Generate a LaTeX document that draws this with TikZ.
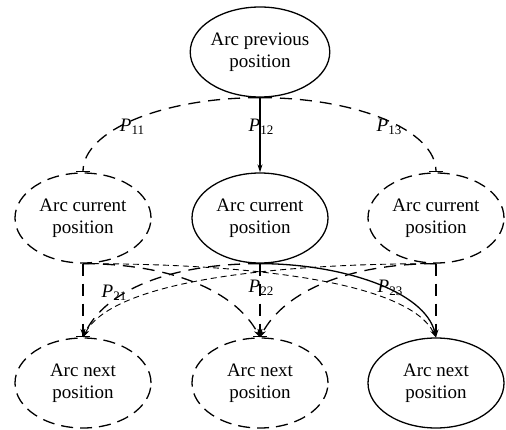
\documentclass[tikz,border=0pt]{standalone}
\usepackage{fontspec}
\setmainfont{Liberation Serif}
\usetikzlibrary{shapes.geometric,arrows.meta}
\newcommand{\plab}[1]{\textit{P}\raisebox{-0.3ex}{\fontsize{13}{13}\selectfont #1}}
\begin{document}
\begin{tikzpicture}[x=1pt,y=-1pt,
  ell/.style={ellipse,draw,line width=1.3pt,minimum width=136pt,minimum height=90pt,inner sep=0pt,
    align=center,font=\fontsize{19}{22}\selectfont},
  dashell/.style={ell,dash pattern=on 12pt off 7pt},
  conn/.style={line width=1.3pt},
  longdash/.style={conn,dash pattern=on 12pt off 8pt},
  finedash/.style={line width=0.9pt,dash pattern=on 6pt off 4pt},
  bartip/.style={-{Bar[width=14pt,line width=1.3pt]}},
  arrtip/.style={-{Stealth[length=8pt,width=5pt]}},
  arrbar/.style={-{Stealth[length=7pt,width=5pt]Bar[width=14pt,line width=1.3pt]}},
  lab/.style={font=\fontsize{19}{22}\selectfont,inner sep=0pt}]
\useasboundingbox (0,0) rectangle (506,430);
% nodes
\node[ell] (t) at (260,52) {Arc previous\\position};
\node[dashell] (cl) at (83,218) {Arc current\\position};
\node[ell] (cm) at (260,218) {Arc current\\position};
\node[dashell] (cr) at (436,218) {Arc current\\position};
\node[dashell] (nl) at (83,383) {Arc next\\position};
\node[dashell] (nm) at (260,383) {Arc next\\position};
\node[ell] (nr) at (436,383) {Arc next\\position};
% top connectors
\draw[longdash,bartip] (t.south) .. controls +(-97,0) and +(0,-42) .. (cl.north);
\draw[longdash,bartip] (t.south) .. controls +(97,0) and +(0,-42) .. (cr.north);
\draw[conn,arrtip] (t.south) -- (cm.north);
% bottom connectors
\draw[longdash,arrbar] (cl.south) -- (nl.north);
\draw[longdash,arrbar] (cm.south) -- (nm.north);
\draw[longdash,arrtip] (cr.south) -- (nr.north);
\draw[longdash,arrtip] (cl.south) .. controls +(87,0) and +(-25,-47) .. (nm.north);
\draw[longdash,arrtip] (cr.south) .. controls +(-86,0) and +(25,-47) .. (nm.north);
\draw[longdash,arrtip] (cm.south) .. controls +(-90,0) and +(22,-47) .. (nl.north);
\draw[finedash,arrtip] (cr.south) .. controls +(-186,0) and +(27,-52) .. (nl.north);
\draw[finedash,arrtip] (cl.south) .. controls +(187,0) and +(-26,-52) .. (nr.north);
\draw[conn,arrtip] (cm.south) .. controls +(80,0) and +(-11,-47) .. (nr.north);
% labels
\node[lab] (p11) at (132,127) {\plab{11}};
\node[lab] (p12) at (261,127) {\plab{12}};
\node[lab] (p13) at (389,127) {\plab{13}};
\node[lab] (p21) at (114,293) {\plab{21}};
\node[lab] (p22) at (261,288) {\plab{22}};
\node[lab] (p23) at (390,288) {\plab{23}};
\end{tikzpicture}
\end{document}
